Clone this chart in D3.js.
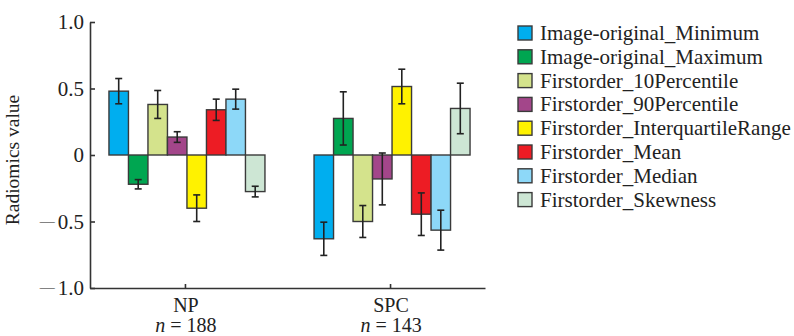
<!DOCTYPE html>
<html><head><meta charset="utf-8">
<script src="https://cdn.jsdelivr.net/npm/d3@7"></script>
<style>body{margin:0;background:#fff}svg{display:block}</style>
</head><body>
<svg id="c" width="794" height="336"></svg>
<script>
const groups = ["NP", "SPC"];
const groupN = ["188", "143"];
const features = ["Image-original_Minimum","Image-original_Maximum","Firstorder_10Percentile","Firstorder_90Percentile","Firstorder_InterquartileRange","Firstorder_Mean","Firstorder_Median","Firstorder_Skewness"];
const colors = ["#00aeef","#00a651","#d4e38c","#a3468a","#fff200","#ed1c24","#8dd8f8","#cde6d4"];
const valuesNP = [0.48,-0.22,0.38,0.135,-0.40,0.34,0.42,-0.275];
const errorsNP = [0.095,0.035,0.105,0.04,0.10,0.08,0.075,0.04];
const valuesSPC = [-0.63,0.275,-0.50,-0.18,0.515,-0.445,-0.565,0.35];
const errorsSPC = [0.125,0.2,0.12,0.195,0.13,0.16,0.15,0.19];
const yTicks = [-1.0,-0.5,0,0.5,1.0];
const yTickLabels = ["1.0","0.5","0","0.5","1.0"];
const yTickNeg = [true,true,false,false,false];

const values = [valuesNP, valuesSPC];
const errors = [errorsNP, errorsSPC];

const svg = d3.select("#c");
const serif = "'Liberation Serif','Times New Roman',serif";
const axisColor = "#333";
const textColor = "#222";

const y = d3.scaleLinear().domain([-1,1]).range([288,22]);
const x0 = d3.scalePoint().domain(groups).range([90,485]).padding(0.463);
const x1 = d3.scaleBand().domain(features).range([-76,80]).padding(0);

// bars
groups.forEach((g,gi)=>{
  const gEl = svg.append("g").attr("transform",`translate(${x0(g)},0)`);
  features.forEach((f,fi)=>{
    const v = values[gi][fi], e = errors[gi][fi];
    gEl.append("rect")
      .attr("x", x1(f)).attr("width", x1.bandwidth())
      .attr("y", y(Math.max(0,v))).attr("height", Math.abs(y(v)-y(0)))
      .attr("fill", colors[fi]).attr("stroke", "#3a3a3a").attr("stroke-width",1.4);
    const cx = x1(f)+x1.bandwidth()/2;
    const eg = gEl.append("g").attr("stroke","#222").attr("stroke-width",1.6);
    eg.append("line").attr("x1",cx).attr("x2",cx).attr("y1",y(v+e)).attr("y2",y(v-e));
    [v+e, v-e].forEach(t=>{
      eg.append("line").attr("x1",cx-3.5).attr("x2",cx+3.5).attr("y1",y(t)).attr("y2",y(t));
    });
  });
});

// y axis (inward ticks)
const yAxis = d3.axisLeft(y).tickValues(yTicks).tickSizeInner(-5).tickSizeOuter(0).tickPadding(6)
  .tickFormat("");
const ya = svg.append("g").attr("transform","translate(90,0)").call(yAxis);
ya.select(".domain").attr("stroke",axisColor).attr("stroke-width",1.6);
ya.selectAll(".tick line").attr("stroke",axisColor).attr("stroke-width",1.6);
ya.selectAll(".tick text").each(function(d,i){
  const t = d3.select(this).attr("font-family",serif).attr("font-size",21).attr("fill",textColor);
  if (yTickNeg[i]) {
    t.append("tspan").attr("font-size",15).attr("baseline-shift","3").text("\u2014");
    t.append("tspan").attr("dx",3).text(yTickLabels[i]);
  } else {
    t.text(yTickLabels[i]);
  }
});

// x axis (inward ticks)
const xAxis = d3.axisBottom(x0).tickSizeInner(-4).tickSizeOuter(0).tickFormat("");
const xa = svg.append("g").attr("transform","translate(0,288)").call(xAxis);
xa.select(".domain").attr("stroke",axisColor).attr("stroke-width",1.6);
xa.selectAll(".tick line").attr("stroke",axisColor).attr("stroke-width",1.6);

groups.forEach((g,gi)=>{
  svg.append("text").attr("x",x0(g)+1).attr("y",312).attr("text-anchor","middle")
    .attr("font-family",serif).attr("font-size",20).attr("fill",textColor).text(g);
  const t = svg.append("text").attr("x",x0(g)+1).attr("y",332).attr("text-anchor","middle")
    .attr("font-family",serif).attr("font-size",20).attr("fill",textColor);
  t.append("tspan").attr("font-style","italic").text("n");
  t.append("tspan").text(" = "+groupN[gi]);
});

// y title
svg.append("text").attr("transform","translate(19,160) rotate(-90)")
  .attr("text-anchor","middle").attr("font-family",serif).attr("font-size",19.5)
  .attr("fill",textColor).text("Radiomics value");

// legend
const lg = svg.append("g").attr("transform","translate(518,26)");
features.forEach((f,i)=>{
  const r = lg.append("g").attr("transform",`translate(0,${i*23.8})`);
  r.append("rect").attr("x",0).attr("y",0).attr("width",14).attr("height",14)
    .attr("fill",colors[i]).attr("stroke","#3a3a3a").attr("stroke-width",1.4);
  r.append("text").attr("x",22).attr("y",14).attr("font-family",serif)
    .attr("font-size",21).attr("fill",textColor).text(f);
});
</script>
</body></html>
